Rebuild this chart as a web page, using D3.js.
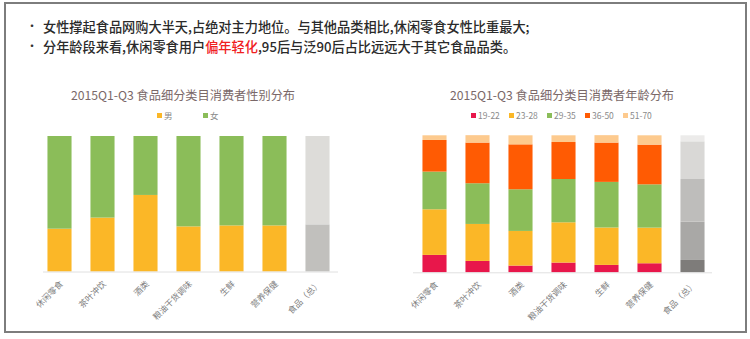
<!DOCTYPE html>
<html>
<head>
<meta charset="utf-8">
<script src="https://cdn.jsdelivr.net/npm/d3@7"></script>
<style>
  html, body { margin: 0; padding: 0; background: #fff; }
  svg { display: block; font-family: "Noto Sans CJK SC", "Noto Sans", sans-serif; }
</style>
</head>
<body>
<svg id="chart" width="750" height="339"></svg>
<script>
// Food sub-categories (shared by both charts)
const categories = ["休闲零食", "茶叶冲饮", "酒类", "粮油干货调味", "生鲜", "营养保健", "食品（总）"];

// Gender split, % of consumers
const genderSeries = ["男", "女"];
const maleShare   = [31.6, 39.8, 56.5, 33.3, 34.0, 34.0, 34.8];
const femaleShare = [68.4, 60.2, 43.5, 66.7, 66.0, 66.0, 65.2];

// Age split, % of consumers
const ageSeries = ["19-22", "23-28", "29-35", "36-50", "51-70"];
const age19_22 = [12.7, 8.3, 4.9, 7.1, 5.4, 6.6, 9.0];
const age23_28 = [33.3, 27.0, 25.3, 29.4, 27.3, 26.0, 28.0];
const age29_35 = [27.5, 29.7, 30.4, 31.6, 33.3, 31.6, 31.1];
const age36_50 = [23.1, 29.7, 32.8, 27.0, 28.7, 29.0, 27.5];
const age51_70 = [3.4, 5.4, 6.6, 4.9, 5.4, 6.8, 4.4];

const titles = ["2015Q1-Q3 食品细分类目消费者性别分布", "2015Q1-Q3 食品细分类目消费者年龄分布"];
const bullets = [
  [{t: "女性撑起食品网购大半天,占绝对主力地位。与其他品类相比,休闲零食女性比重最大;"}],
  [{t: "分年龄段来看,休闲零食用户"}, {t: "偏年轻化", red: true}, {t: ",95后与泛90后占比远远大于其它食品品类。"}]
];

const genderColors = ["#fbb727", "#8bbd59"];
const genderGrays  = ["#c1c0bd", "#dddcd9"];
const ageColors = ["#e8174b", "#fbb727", "#8bbd59", "#ff5b03", "#fdca8e"];
const ageGrays  = ["#7e7c7a", "#a9a8a6", "#bebdbb", "#d9d8d6", "#ecebea"];

const svg = d3.select("#chart");

// frame
svg.append("rect").attr("x", 5).attr("y", 3).attr("width", 741).attr("height", 329)
  .attr("fill", "none").attr("stroke", "#7d7d7d").attr("stroke-width", 2);

// bullet text
bullets.forEach((parts, i) => {
  const y = 32 + i * 20;
  svg.append("text").attr("x", 26).attr("y", y - 1).attr("font-size", 12).attr("fill", "#333").text("•");
  const t = svg.append("text").attr("x", 43).attr("y", y).attr("font-size", 13.2)
    .attr("font-weight", 500).attr("fill", "#2a2a2a");
  parts.forEach(p => t.append("tspan").attr("fill", p.red ? "#f0201e" : null).text(p.t));
});

function drawChart(opt) {
  const g = svg.append("g");
  const x = d3.scaleBand().domain(categories).range(opt.xRange).paddingInner(0.44).paddingOuter(0.22);
  const y = d3.scaleLinear().domain([0, 100]).range(opt.yRange);

  const rows = categories.map((c, i) => {
    const r = {cat: c};
    opt.keys.forEach((k, j) => r[k] = opt.values[j][i]);
    return r;
  });
  const stacked = d3.stack().keys(opt.keys)(rows);

  const last = categories[categories.length - 1];
  g.selectAll("g.layer").data(stacked).join("g").attr("class", "layer")
    .selectAll("rect").data((d, j) => d.map(p => ({p, j})))
    .join("rect")
    .attr("x", d => x(d.p.data.cat))
    .attr("width", x.bandwidth())
    .attr("y", d => y(d.p[1]))
    .attr("height", d => y(d.p[0]) - y(d.p[1]))
    .attr("fill", d => d.p.data.cat === last ? opt.grays[d.j] : opt.colors[d.j]);

  // baseline axis with rotated category labels
  const axis = d3.axisBottom(x).tickSize(0).tickPadding(0);
  const ag = g.append("g").attr("transform", `translate(0,${opt.yRange[0]})`).call(axis);
  ag.select(".domain").attr("d", `M${opt.axisX[0]},0.5H${opt.axisX[1]}`).attr("stroke", "#e0e0e0");
  ag.selectAll(".tick text")
    .attr("font-family", "'Noto Sans CJK SC', sans-serif")
    .attr("font-size", 8.5).attr("fill", "#808080")
    .attr("text-anchor", "end")
    .attr("dy", null).attr("y", 0)
    .attr("transform", "translate(4,13) rotate(-45)");

  // title
  g.append("text").attr("x", opt.cx).attr("y", 100).attr("text-anchor", "middle")
    .attr("font-size", 12.2).attr("fill", "#7a6868").text(opt.title);

  // legend
  const lg = g.selectAll("g.leg").data(opt.keys).join("g").attr("class", "leg")
    .attr("transform", (d, i) => `translate(${opt.legX + i * opt.legStep},116)`);
  lg.append("rect").attr("x", 0).attr("y", -3).attr("width", 5).attr("height", 5)
    .attr("fill", (d, i) => opt.colors[i]);
  lg.append("text").attr("x", 7).attr("y", 3).attr("font-size", 8.5).attr("fill", "#8a8a8a").text(d => d);
}

drawChart({
  keys: genderSeries, values: [maleShare, femaleShare],
  colors: genderColors, grays: genderGrays,
  xRange: [38, 339], yRange: [271.5, 136], axisX: [43, 338],
  title: titles[0], cx: 183, legX: 157, legStep: 46
});

drawChart({
  keys: ageSeries, values: [age19_22, age23_28, age29_35, age36_50, age51_70],
  colors: ageColors, grays: ageGrays,
  xRange: [413, 714], yRange: [272.3, 135.3], axisX: [413, 712],
  title: titles[1], cx: 562, legX: 471, legStep: 38
});
</script>
</body>
</html>
